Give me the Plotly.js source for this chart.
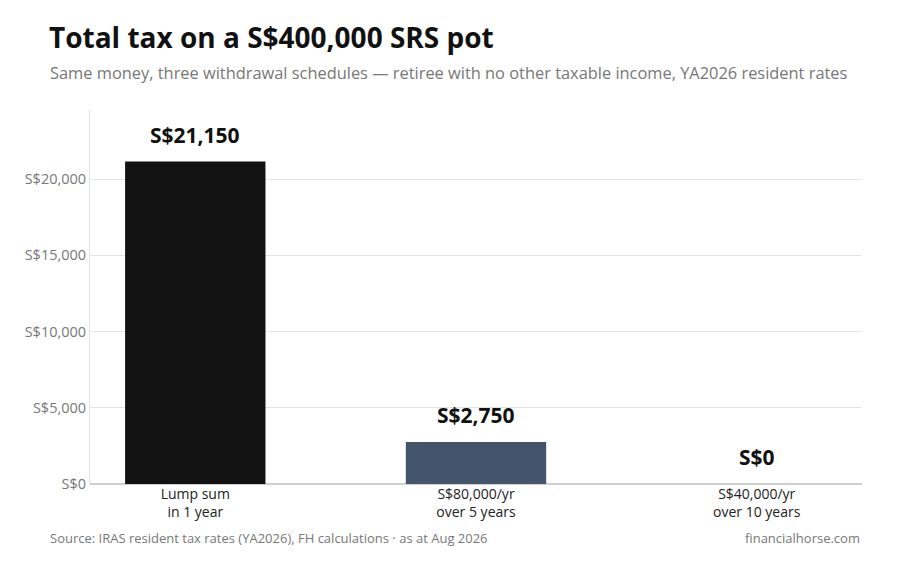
<!DOCTYPE html>
<html>
<head>
<meta charset="utf-8">
<script src="https://cdn.plot.ly/plotly-3.0.1.min.js"></script>
<style>
  html, body { margin: 0; padding: 0; background: #fff; }
  #chart { width: 903px; height: 566px; }
</style>
</head>
<body>
<div id="chart"></div>
<script>
// withdrawal schedules and the total tax for each
var categories = ['Lump sum<br>in 1 year', 'S$80,000/yr<br>over 5 years', 'S$40,000/yr<br>over 10 years']
var totalTax = [21150, 2750, 0]
var barColors = ['#121212', '#44546a', '#44546a']
var yTicks = [0, 5000, 10000, 15000, 20000]
var yTickLabels = ['S$0', 'S$5,000', 'S$10,000', 'S$15,000', 'S$20,000']

var font = '"Open Sans", "Noto Sans", sans-serif'

var trace = {
    x: categories,
    y: totalTax,
    type: 'bar',
    width: 0.5,
    marker: { color: barColors },
    hoverinfo: 'none'
}

var labels = totalTax.map(function (v, i) {
    return {
        x: categories[i],
        y: v,
        xref: 'x',
        yref: 'y',
        text: '<b>S$' + v.toLocaleString('en-US') + '</b>',
        showarrow: false,
        yanchor: 'bottom',
        yshift: 11,
        font: { family: font, size: 21, color: '#111' }
    }
})

var layout = {
    width: 903,
    height: 566,
    margin: { l: 90, r: 41, t: 110, b: 82 },
    paper_bgcolor: '#fff',
    plot_bgcolor: '#fff',
    font: { family: font, color: '#111' },
    showlegend: false,
    title: {
        text: '<b>Total tax on a S$400,000 SRS pot</b>',
        xref: 'container',
        x: 49 / 903,
        xanchor: 'left',
        yref: 'container',
        y: 1 - 38 / 566,
        yanchor: 'middle',
        font: { family: font, size: 28, color: '#111' }
    },
    xaxis: {
        type: 'category',
        range: [-0.375, 2.375],
        showline: false,
        showgrid: false,
        zeroline: false,
        ticks: '',
        tickfont: { family: font, size: 14, color: '#222' },
        fixedrange: true
    },
    yaxis: {
        range: [0, 21150 * 1.16],
        tickvals: yTicks,
        ticktext: yTickLabels,
        showgrid: true,
        gridcolor: '#e3e3e3',
        gridwidth: 1,
        zeroline: true,
        zerolinecolor: '#cfcfcf',
        zerolinewidth: 1.5,
        showline: true,
        linecolor: '#e3e3e3',
        linewidth: 1,
        ticks: '',
        ticklabelstandoff: 0,
        tickfont: { family: font, size: 14.5, color: '#777' },
        fixedrange: true
    },
    annotations: labels.concat([
        {
            text: 'Same money, three withdrawal schedules \u2014 retiree with no other taxable income, YA2026 resident rates',
            xref: 'paper', yref: 'paper',
            x: -42 / 772, xanchor: 'left',
            y: 1 + (110 - 72) / 374, yanchor: 'middle',
            showarrow: false,
            font: { family: font, size: 16.4, color: '#777' }
        },
        {
            text: 'Source: IRAS resident tax rates (YA2026), FH calculations \u00b7 as at Aug 2026',
            xref: 'paper', yref: 'paper',
            x: -42 / 772, xanchor: 'left',
            y: -(538 - 484) / 374, yanchor: 'middle',
            showarrow: false,
            font: { family: font, size: 13, color: '#777' }
        },
        {
            text: 'financialhorse.com',
            xref: 'paper', yref: 'paper',
            x: 1, xanchor: 'right',
            y: -(538 - 484) / 374, yanchor: 'middle',
            showarrow: false,
            font: { family: font, size: 13, color: '#777' }
        }
    ])
}

Plotly.newPlot('chart', [trace], layout, { displayModeBar: false, staticPlot: true })
</script>
</body>
</html>
